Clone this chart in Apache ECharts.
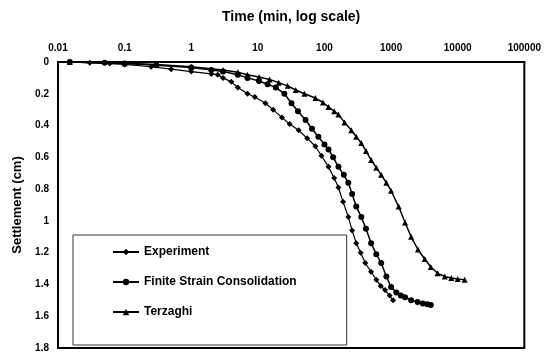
<!DOCTYPE html>
<html>
<head>
<meta charset="utf-8">
<script src="https://cdn.jsdelivr.net/npm/echarts@6/dist/echarts.min.js"></script>
<style>
  html, body { margin: 0; padding: 0; background: #fff; }
  #chart { width: 544px; height: 359px; }
</style>
</head>
<body>
<div id="chart"></div>
<script>
// time (min) and settlement (cm)
const expTime = [0.015, 0.03, 0.06, 0.1, 0.25, 0.5, 1, 2, 2.5, 3, 4, 5, 7, 9, 13, 17, 23, 30, 41, 55, 73, 90, 115, 140, 162, 190, 228, 260, 300, 350, 410, 500, 600, 700, 813, 950, 1070];
const expSettle = [0, 0.005, 0.01, 0.015, 0.03, 0.045, 0.06, 0.075, 0.08, 0.1, 0.125, 0.16, 0.2, 0.22, 0.26, 0.3, 0.35, 0.39, 0.43, 0.48, 0.53, 0.59, 0.66, 0.73, 0.79, 0.88, 0.975, 1.06, 1.14, 1.2, 1.265, 1.32, 1.37, 1.41, 1.435, 1.47, 1.5];

const fscTime = [0.015, 0.05, 0.1, 0.3, 1, 2, 3, 5, 7, 10.4, 14, 18.6, 25, 32, 40, 52, 65, 81, 100, 115, 135, 162, 195, 228, 260, 300, 357, 420, 502, 600, 710, 850, 1000, 1200, 1400, 1620, 2000, 2500, 3000, 3500, 3950];
const fscSettle = [0, 0.005, 0.01, 0.02, 0.035, 0.05, 0.06, 0.08, 0.1, 0.12, 0.14, 0.16, 0.2, 0.26, 0.31, 0.365, 0.42, 0.47, 0.52, 0.55, 0.6, 0.66, 0.71, 0.76, 0.83, 0.91, 0.975, 1.05, 1.14, 1.21, 1.265, 1.35, 1.416, 1.45, 1.47, 1.48, 1.5, 1.51, 1.52, 1.525, 1.53];

const terTime = [0.015, 0.1, 0.3, 1, 3, 5, 7, 10.4, 15, 20.6, 28, 37, 50, 73, 95, 115, 140, 162, 200, 253, 300, 357, 420, 502, 600, 710, 850, 1000, 1300, 1620, 2000, 2530, 3200, 3950, 5000, 6400, 8000, 10000, 12700];
const terSettle = [0, 0.008, 0.015, 0.03, 0.05, 0.065, 0.08, 0.094, 0.11, 0.13, 0.15, 0.176, 0.2, 0.227, 0.255, 0.283, 0.31, 0.33, 0.38, 0.43, 0.47, 0.51, 0.56, 0.617, 0.665, 0.71, 0.76, 0.81, 0.91, 1.01, 1.1, 1.18, 1.24, 1.29, 1.33, 1.35, 1.36, 1.365, 1.37];

const pairs = (xs, ys) => xs.map((x, i) => [x, ys[i]]);
const font = 'Arial, "Liberation Sans", sans-serif';

const chart = echarts.init(document.getElementById('chart'));
chart.setOption({
  animation: false,
  grid: { left: 58, right: 16, top: 62, bottom: 11, show: true, borderColor: '#000', borderWidth: 2 },
  xAxis: {
    type: 'log',
    logBase: 10,
    min: 0.01,
    max: 100000,
    position: 'top',
    name: 'Time (min, log scale)',
    nameLocation: 'middle',
    nameGap: 38,
    nameTextStyle: { fontFamily: font, fontWeight: 'bold', fontSize: 14, color: '#000' },
    axisLine: { lineStyle: { color: '#000', width: 2 } },
    axisTick: { show: false },
    splitLine: { show: false },
    axisLabel: {
      fontFamily: font, fontWeight: 'bold', fontSize: 10, color: '#000', margin: 9,
      formatter: v => String(+v.toPrecision(6))
    }
  },
  yAxis: {
    type: 'value',
    inverse: true,
    min: 0,
    max: 1.8,
    interval: 0.2,
    name: 'Settlement (cm)',
    nameLocation: 'middle',
    nameGap: 34,
    nameTextStyle: { fontFamily: font, fontWeight: 'bold', fontSize: 13, color: '#000' },
    axisLine: { lineStyle: { color: '#000', width: 2 } },
    axisTick: { show: false },
    splitLine: { show: false },
    axisLabel: { fontFamily: font, fontWeight: 'bold', fontSize: 10, color: '#000', margin: 9 }
  },
  legend: {
    orient: 'vertical',
    left: 73,
    top: 235,
    itemGap: 18,
    itemWidth: 26,
    itemHeight: 8,
    padding: [11, 50, 27, 39],
    borderColor: '#333',
    borderWidth: 1,
    textStyle: { fontFamily: font, fontSize: 12, fontWeight: 'bold', color: '#000' },
    data: ['Experiment', 'Finite Strain Consolidation', 'Terzaghi']
  },
  series: [
    {
      name: 'Experiment', type: 'line', symbol: 'diamond', symbolSize: 6,
      lineStyle: { color: '#000', width: 1.2 }, itemStyle: { color: '#000' },
      data: pairs(expTime, expSettle)
    },
    {
      name: 'Finite Strain Consolidation', type: 'line', symbol: 'circle', symbolSize: 6,
      lineStyle: { color: '#000', width: 1.5 }, itemStyle: { color: '#000' },
      data: pairs(fscTime, fscSettle)
    },
    {
      name: 'Terzaghi', type: 'line', symbol: 'triangle', symbolSize: 6,
      lineStyle: { color: '#000', width: 1.5 }, itemStyle: { color: '#000' },
      data: pairs(terTime, terSettle)
    }
  ]
});
</script>
</body>
</html>
